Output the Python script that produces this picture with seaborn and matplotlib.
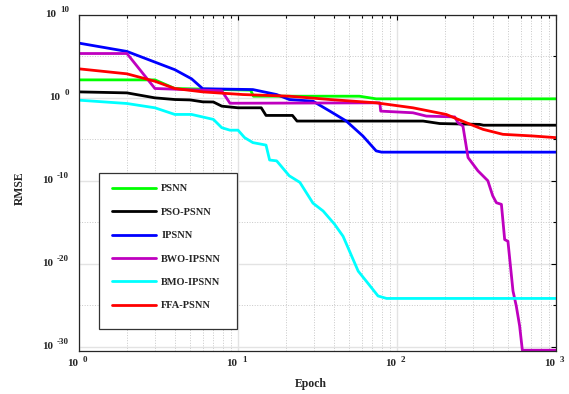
import numpy as np
import pandas as pd
import matplotlib
matplotlib.use("Agg")
import matplotlib.pyplot as plt
import matplotlib.ticker as mticker
import matplotlib.transforms as mtrans
from matplotlib.patches import Rectangle
import seaborn as sns

# Data: epoch and log10(RMSE)

psnn_epoch = [1, 3, 4, 12, 12.5, 58, 74, 1000]
psnn_log = [2.17, 2.17, 1.13, 0.93, 0.2, 0.2, -0.12, -0.12]

pso_epoch = [1, 2, 3, 4, 5, 6, 7, 7.9, 10, 14, 15, 22, 23.5, 146, 186, 331, 350, 1000]
pso_log = [0.72, 0.6, 0.0, -0.2, -0.25, -0.48, -0.5, -1.0, -1.2, -1.2, -2.12, -2.12,
           -2.8, -2.8, -3.1, -3.2, -3.3, -3.3]

ipsnn_epoch = [1, 2, 4, 5.1, 6, 12.4, 17.5, 21, 29.6, 37.8, 48, 61, 74, 80, 1000]
ipsnn_log = [6.6, 5.6, 3.4, 2.3, 1.1, 1.0, 0.4, -0.2, -0.4, -1.6, -2.8, -4.6, -6.4,
             -6.55, -6.55]

bwo_epoch = [1, 2, 3, 7.9, 8.9, 78, 79, 126, 153, 231, 242, 260, 280, 323, 373,
             400, 422, 454, 476, 499, 537, 563, 591, 615, 1000]
bwo_log = [5.35, 5.35, 1.13, 0.85, -0.65, -0.6, -1.6, -1.8, -2.2, -2.3, -3.0, -3.4,
           -7.2, -8.8, -10.0, -11.8, -12.65, -12.85, -17.1, -17.3, -23.3, -25.1,
           -27.5, -30.45, -30.45]

bmo_epoch = [1, 2, 3, 4, 5.1, 7, 7.9, 8.9, 10, 11, 12.4, 15, 15.8, 17.5, 21, 24.5,
             29.6, 34.3, 40.5, 45.8, 50.3, 57, 64, 76, 86, 1000]
bmo_log = [-0.28, -0.68, -1.2, -2.0, -2.0, -2.6, -3.6, -3.9, -3.9, -4.8, -5.4, -5.7,
           -7.5, -7.6, -9.4, -10.2, -12.7, -13.65, -15.25, -16.7, -18.5, -20.9,
           -22.1, -23.9, -24.2, -24.2]

ffa_epoch = [1, 2, 3, 4, 6, 10.7, 21, 37.8, 74, 126, 204, 273, 348, 464, 717, 1000]
ffa_log = [3.5, 2.9, 2.0, 1.13, 0.72, 0.4, 0.2, -0.2, -0.6, -1.2, -2.0, -3.0, -3.8,
           -4.4, -4.6, -4.8]

labels = ["PSNN", "PSO-PSNN", "IPSNN", "BWO-IPSNN", "BMO-IPSNN", "FFA-PSNN"]
colors = ["#00ff00", "#000000", "#0000ff", "#bf00bf", "#00ffff", "#ff0000"]

x_ticks = [1, 10, 100, 1000]
y_ticks = [1e-30, 1e-20, 1e-10, 1e0, 1e10]
y_minor = [1e-25, 1e-15, 1e-5, 1e5]

# Build long-form table

series = [
    (psnn_epoch, psnn_log),
    (pso_epoch, pso_log),
    (ipsnn_epoch, ipsnn_log),
    (bwo_epoch, bwo_log),
    (bmo_epoch, bmo_log),
    (ffa_epoch, ffa_log),
]
frames = []
for name, (ep, lg) in zip(labels, series):
    frames.append(pd.DataFrame({
        "Epoch": ep,
        "RMSE": 10.0 ** np.array(lg),
        "Model": name,
    }))
df = pd.concat(frames, ignore_index=True)

# Style

sns.set_style("white")
plt.rcParams["font.family"] = ["Liberation Serif", "DejaVu Serif"]
plt.rcParams["font.weight"] = "bold"

fig = plt.figure(figsize=(5.69, 3.94), dpi=100)
ax = fig.add_axes([0.139, 0.110, 0.838, 0.852])

sns.lineplot(data=df, x="Epoch", y="RMSE", hue="Model", hue_order=labels,
             palette=colors, estimator=None, sort=False, linewidth=2,
             ax=ax, legend=False)

ax.set_xscale("log")
ax.set_yscale("log")
ax.set_xlim(1, 1000)
ax.set_ylim(10 ** -30.5, 1e10)

# Ticks

ax.xaxis.set_major_locator(mticker.FixedLocator(x_ticks))
ax.xaxis.set_minor_locator(mticker.LogLocator(base=10, subs=np.arange(2, 10)))
ax.yaxis.set_major_locator(mticker.FixedLocator(y_ticks))
ax.yaxis.set_minor_locator(mticker.FixedLocator(y_minor))
ax.tick_params(which="both", direction="in", top=True, right=True,
               labelbottom=False, labelleft=False, width=0.8, colors="black")
ax.tick_params(which="major", length=3.5)
ax.tick_params(which="minor", length=2)

ax.grid(which="major", color="#e3e3e3", linestyle="-", linewidth=1)
ax.grid(which="minor", color="#c8c8c8", linestyle=":", linewidth=0.7)
ax.set_axisbelow(True)
for s in ax.spines.values():
    s.set_color("#262626")
    s.set_linewidth(0.9)

# MATLAB-like "10 ^exp" tick labels, base and exponent as separate texts
renderer = fig.canvas.get_renderer()
base_kw = dict(fontsize=8, fontweight="bold", family="Liberation Serif")
exp_kw = dict(fontsize=6.5, fontweight="bold", family="Liberation Serif")

ytrans = mtrans.blended_transform_factory(ax.transAxes, ax.transData)
for v in y_ticks:
    e = int(round(np.log10(v)))
    t_exp = ax.text(0, v, str(e), ha="right", va="center",
                    transform=mtrans.offset_copy(ytrans, fig=fig, x=-10, y=5,
                                                 units="dots"), **exp_kw)
    w = t_exp.get_window_extent(renderer).width
    ax.text(0, v, "10", ha="right", va="center",
            transform=mtrans.offset_copy(ytrans, fig=fig, x=-(10 + w + 4), y=0,
                                         units="dots"), **base_kw)

xtrans = mtrans.blended_transform_factory(ax.transData, ax.transAxes)
for v in x_ticks:
    e = int(round(np.log10(v)))
    ax.text(v, 0, "10", ha="right", va="center",
            transform=mtrans.offset_copy(xtrans, fig=fig, x=-1, y=-13,
                                         units="dots"), **base_kw)
    ax.text(v, 0, str(e), ha="left", va="center",
            transform=mtrans.offset_copy(xtrans, fig=fig, x=4, y=-9,
                                         units="dots"), **exp_kw)

ax.set_xlabel("Epoch", fontsize=8.5, fontweight="bold")
ax.xaxis.set_label_coords(0.486, -0.1)
ax.xaxis.label.set_va("center")
ax.set_ylabel("RMSE", fontsize=8.5, fontweight="bold")
ax.yaxis.set_label_coords(-0.124, 0.484)
ax.yaxis.label.set_va("center")

# Legend with boxed frame

ax.add_patch(Rectangle((0.042, 0.065), 0.29, 0.464, transform=ax.transAxes,
                       facecolor="white", edgecolor="#333333", linewidth=0.9,
                       zorder=5))
handles = [plt.Line2D([], [], color=c, linewidth=2) for c in colors]
leg = ax.legend(handles, labels, loc="upper left",
                bbox_to_anchor=(0.048, 0.527), frameon=False,
                prop={"family": "Liberation Serif", "weight": "bold", "size": 7.5},
                handlelength=4.2, handletextpad=0.5, labelspacing=1.35,
                borderpad=0.5)
leg.set_zorder(6)

fig.savefig("out.png", dpi=100)
